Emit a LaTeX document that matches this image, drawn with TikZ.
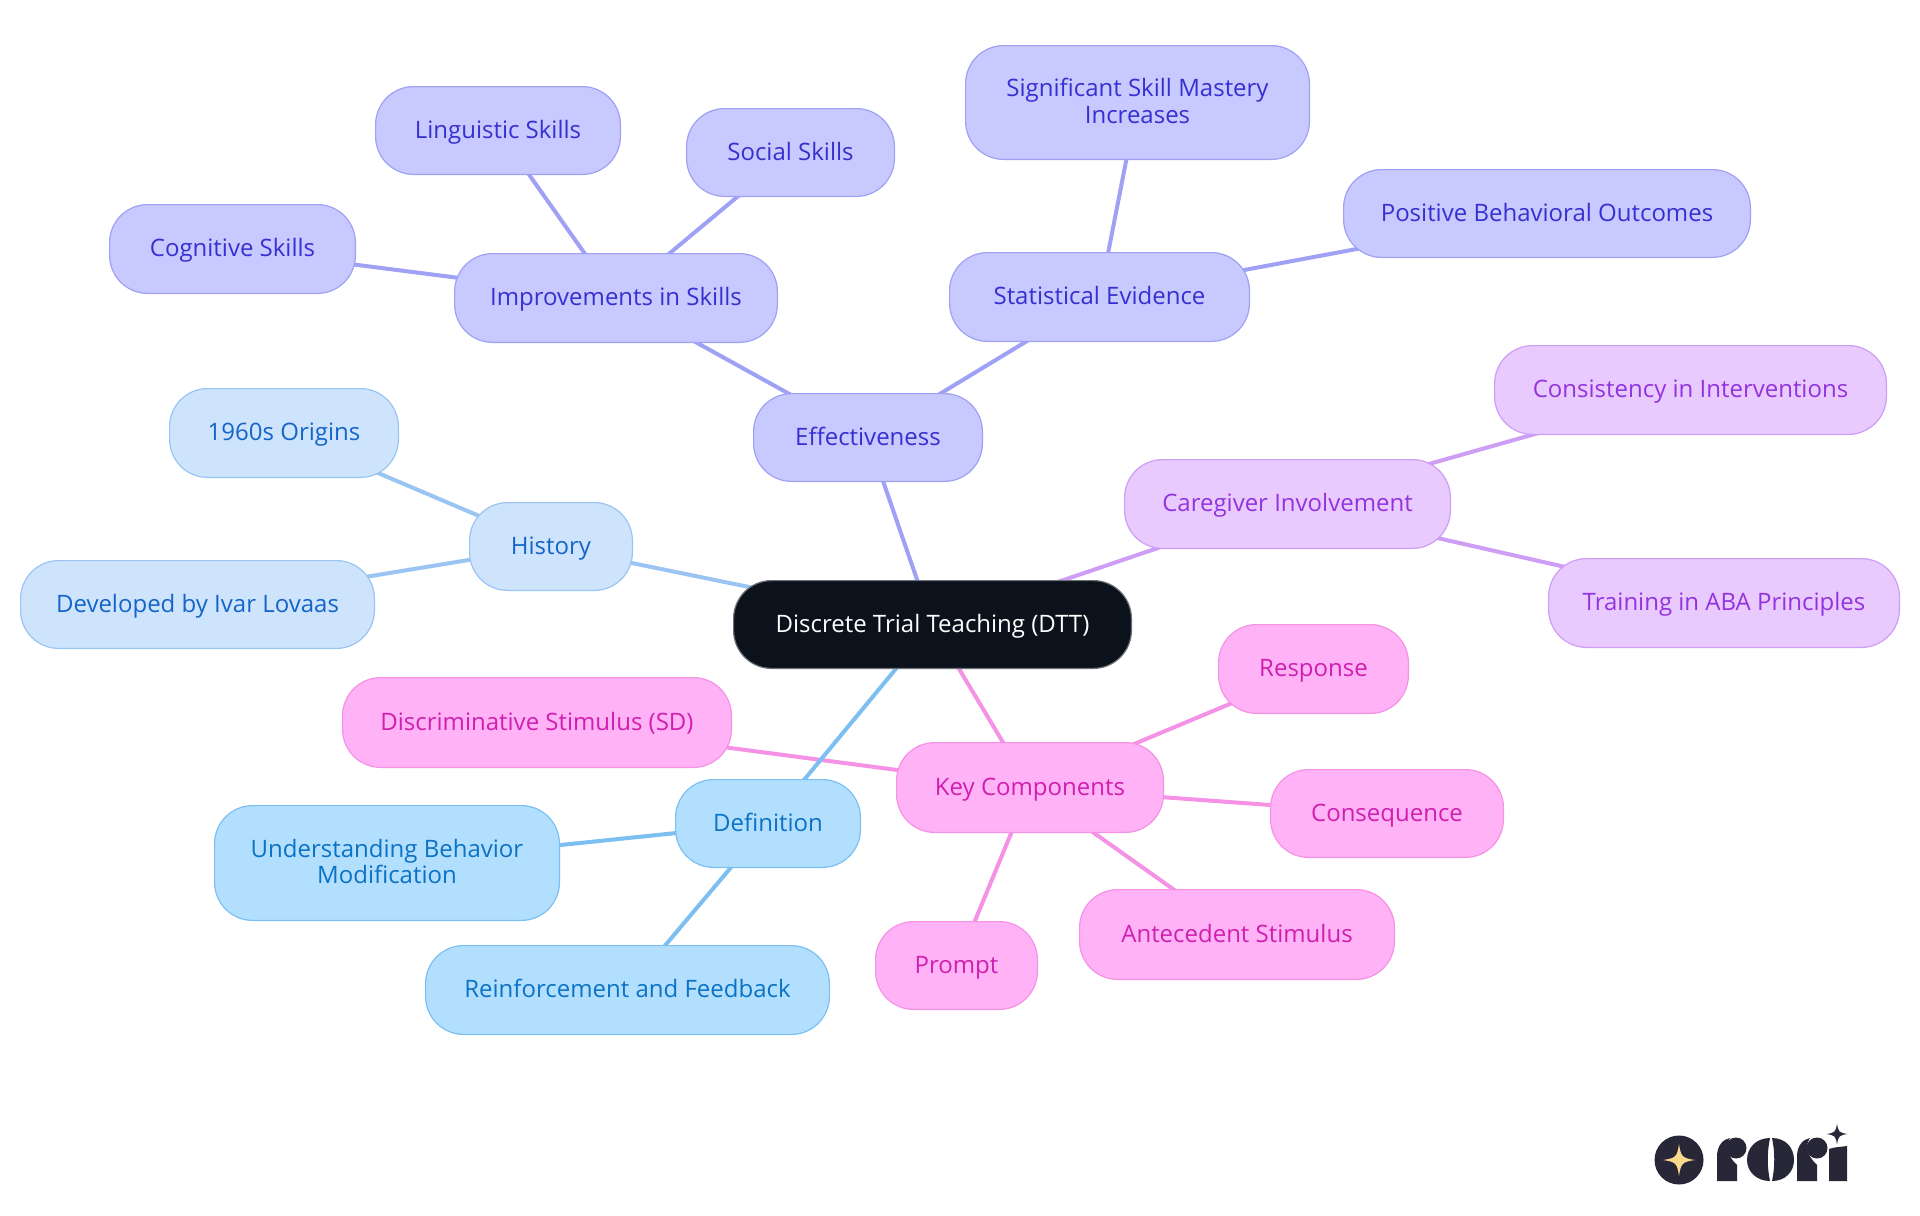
\documentclass[tikz,border=0pt]{standalone}
\usepackage{fontspec}
\setmainfont{Open Sans}
\definecolor{rootc}{HTML}{0B121B}
\definecolor{rootl}{HTML}{6B6F75}
\definecolor{af}{HTML}{B3DFFF}\definecolor{al}{HTML}{7CC0F2}\definecolor{at}{HTML}{0B72C4}
\definecolor{bf}{HTML}{CEE3FC}\definecolor{bl}{HTML}{9AC5F2}\definecolor{bt}{HTML}{1565C8}
\definecolor{cf}{HTML}{C8C9FF}\definecolor{cl}{HTML}{9FA1F5}\definecolor{ct}{HTML}{3730D0}
\definecolor{df}{HTML}{E8CAFF}\definecolor{dl}{HTML}{CE9DF5}\definecolor{dt}{HTML}{9333DD}
\definecolor{ef}{HTML}{FFB3F6}\definecolor{el}{HTML}{F592E6}\definecolor{et}{HTML}{CF1FB0}
\definecolor{logod}{HTML}{282737}\definecolor{logog}{HTML}{FBD98C}
\pgfdeclarelayer{front}\pgfsetlayers{main,front}
\tikzset{x=0.5pt,y=-0.5pt,
 mm/.style={rounded corners=19pt,line width=0.6pt,align=center,inner sep=0pt,outer sep=0pt,font=\fontsize{12pt}{13.3pt}\selectfont},
 lk/.style={line width=2pt},
 sa/.style={mm,fill=af,draw=al,text=at},
 sb/.style={mm,fill=bf,draw=bl,text=bt},
 sc/.style={mm,fill=cf,draw=cl,text=ct},
 sd/.style={mm,fill=df,draw=dl,text=dt},
 se/.style={mm,fill=ef,draw=el,text=et},
 sroot/.style={mm,fill=rootc,draw=rootl,text=white}}
\newcommand{\upstrut}{\rule{0pt}{10.4pt}}
\newcommand{\dnstrut}{\rule[-2.9pt]{0pt}{2.9pt}}
% name, style, x0, x1, y0, y1, text
\newcommand{\bx}[7]{\node[#2,minimum width=(#4-#3)*0.5pt-0.6pt,minimum height=(#6-#5)*0.5pt-0.6pt] (#1) at ({(#3+#4)/2},{(#5+#6)/2}) {\upstrut #7\dnstrut};}
\newcommand{\fourstar}[4]{\fill[#4] (#1-#3,#2) .. controls (#1-0.2*#3,#2-0.12*#3) and (#1-0.12*#3,#2-0.2*#3) .. (#1,#2-#3) .. controls (#1+0.12*#3,#2-0.2*#3) and (#1+0.2*#3,#2-0.12*#3) .. (#1+#3,#2) .. controls (#1+0.2*#3,#2+0.12*#3) and (#1+0.12*#3,#2+0.2*#3) .. (#1,#2+#3) .. controls (#1-0.12*#3,#2+0.2*#3) and (#1-0.2*#3,#2+0.12*#3) .. (#1-#3,#2) -- cycle;}
\begin{document}
\begin{tikzpicture}
\useasboundingbox (0,0) rectangle (1920,1215);
\fill[white] (0,0) rectangle (1920,1215);
\begin{pgfonlayer}{front}
\bx{root}{sroot}{733}{1132}{580}{669}{Discrete Trial Teaching (DTT)}
\bx{eff}{sc}{753}{983}{393}{482}{Effectiveness}
\bx{imp}{sc}{454}{778}{253}{343}{Improvements in Skills}
\bx{sta}{sc}{949}{1250}{252}{342}{Statistical Evidence}
\bx{cog}{sc}{109}{356}{204}{294}{Cognitive Skills}
\bx{lin}{sc}{375}{621}{86}{175}{Linguistic Skills}
\bx{soc}{sc}{686}{895}{108}{197}{Social Skills}
\bx{sig}{sc}{965}{1310}{45}{160}{Significant Skill Mastery\\Increases}
\bx{pos}{sc}{1343}{1751}{169}{258}{Positive Behavioral Outcomes}
\bx{his}{sb}{469}{633}{502}{591}{History}
\bx{ori}{sb}{169}{399}{388}{478}{1960s Origins}
\bx{dev}{sb}{20}{375}{560}{649}{Developed by Ivar Lovaas}
\bx{car}{sd}{1124}{1451}{459}{549}{Caregiver Involvement}
\bx{con}{sd}{1494}{1887}{345}{435}{Consistency in Interventions}
\bx{tra}{sd}{1548}{1900}{558}{648}{Training in ABA Principles}
\bx{key}{se}{896}{1164}{742}{833}{Key Components}
\bx{dis}{se}{342}{732}{677}{768}{Discriminative Stimulus (SD)}
\bx{res}{se}{1218}{1409}{624}{714}{Response}
\bx{csq}{se}{1270}{1504}{769}{858}{Consequence}
\bx{ant}{se}{1079}{1395}{889}{980}{Antecedent Stimulus}
\bx{pro}{se}{875}{1038}{921}{1010}{Prompt}
\bx{def}{sa}{675}{861}{779}{868}{Definition}
\bx{und}{sa}{214}{560}{805}{921}{Understanding Behavior\\Modification}
\bx{rei}{sa}{425}{830}{945}{1035}{Reinforcement and Feedback}
\end{pgfonlayer}
\draw[lk,cl] (root.center)--(eff.center);
\draw[lk,cl] (eff.center)--(imp.center);
\draw[lk,cl] (eff.center)--(sta.center);
\draw[lk,cl] (imp.center)--(cog.center);
\draw[lk,cl] (imp.center)--(lin.center);
\draw[lk,cl] (imp.center)--(soc.center);
\draw[lk,cl] (sta.center)--(sig.center);
\draw[lk,cl] (sta.center)--(pos.center);
\draw[lk,bl] (root.center)--(his.center);
\draw[lk,bl] (his.center)--(ori.center);
\draw[lk,bl] (his.center)--(dev.center);
\draw[lk,dl] (root.center)--(car.center);
\draw[lk,dl] (car.center)--(con.center);
\draw[lk,dl] (car.center)--(tra.center);
\draw[lk,el] (root.center)--(key.center);
\draw[lk,el] (key.center)--(dis.center);
\draw[lk,el] (key.center)--(res.center);
\draw[lk,el] (key.center)--(csq.center);
\draw[lk,el] (key.center)--(ant.center);
\draw[lk,el] (key.center)--(pro.center);
\draw[lk,al] (root.center)--(def.center);
\draw[lk,al] (def.center)--(und.center);
\draw[lk,al] (def.center)--(rei.center);
% logo
\fill[logod] (1679,1160) circle[radius=24.5];
\fourstar{1679}{1160}{16}{logog}
\fill[logod] (1717,1181) -- (1717,1156) .. controls (1717,1146) and (1723,1139) .. (1730,1138) .. controls (1724,1147) and (1727,1155) .. (1737,1165) -- (1737,1181) -- cycle;
\fill[logod] (1736,1148) circle[radius=10.5];
\fill[logod] (1770,1138) .. controls (1757,1138) and (1747,1147) .. (1747,1160) .. controls (1747,1172) and (1757,1181) .. (1770,1181) .. controls (1767,1167) and (1767,1152) .. (1770,1138) -- cycle;
\fill[logod] (1772,1138) .. controls (1785,1138) and (1794,1147) .. (1794,1160) .. controls (1794,1172) and (1785,1181) .. (1772,1181) .. controls (1775,1167) and (1775,1152) .. (1772,1138) -- cycle;
\fill[logod] (1797,1181) -- (1797,1156) .. controls (1797,1146) and (1803,1139) .. (1810,1138) .. controls (1804,1147) and (1807,1155) .. (1817,1165) -- (1817,1181) -- cycle;
\fill[logod] (1817,1148) circle[radius=10.5];
\fill[logod] (1829,1181) -- (1829,1149) .. controls (1834,1147) and (1840,1147) .. (1847,1146) -- (1847,1181) -- cycle;
\fourstar{1837}{1134}{10.5}{logod}
\end{tikzpicture}
\end{document}
